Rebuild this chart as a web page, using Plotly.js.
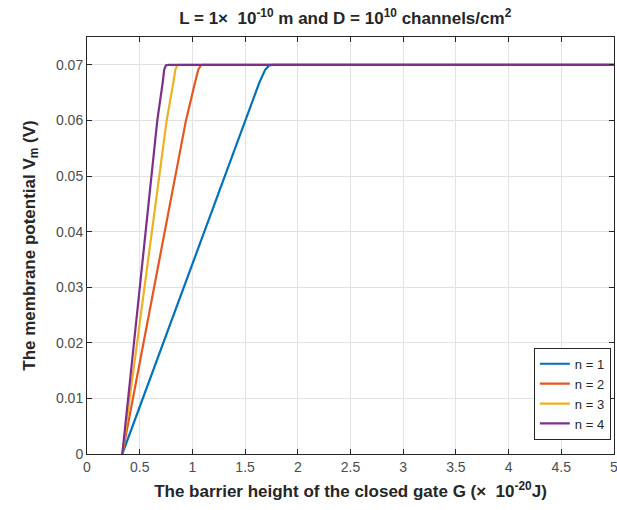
<!DOCTYPE html>
<html>
<head>
<meta charset="utf-8">
<script src="https://cdn.plot.ly/plotly-3.0.1.min.js"></script>
<style>html,body{margin:0;padding:0;background:#fff;}#chart{width:617px;height:510px;}</style>
</head>
<body>
<div id="chart"></div>
<script>
const seriesNames = ["n = 1", "n = 2", "n = 3", "n = 4"];
const G1 = [0.335, 0.724, 1.11, 1.506, 1.635, 1.69, 1.73, 1.76, 5];
const V1 = [0, 0.02, 0.04, 0.06, 0.0668, 0.0691, 0.0699, 0.07, 0.07];
const G2 = [0.335, 0.536, 0.738, 0.939, 1.025, 1.055, 1.08, 1.10, 5];
const V2 = [0, 0.02, 0.04, 0.06, 0.0668, 0.0691, 0.0699, 0.07, 0.07];
const G3 = [0.335, 0.477, 0.617, 0.756, 0.819, 0.838, 0.855, 0.87, 5];
const V3 = [0, 0.02, 0.04, 0.06, 0.0668, 0.0691, 0.0699, 0.07, 0.07];
const G4 = [0.335, 0.447, 0.557, 0.667, 0.718, 0.732, 0.748, 0.77, 5];
const V4 = [0, 0.02, 0.04, 0.06, 0.0668, 0.0691, 0.0699, 0.07, 0.07];
const colors = ["#0072BD", "#E8551F", "#EDB120", "#7E2F8E"];

const Gs = [G1, G2, G3, G4];
const Vs = [V1, V2, V3, V4];
const traces = seriesNames.map((name, i) => ({
  x: Gs[i], y: Vs[i], name: name, type: 'scatter', mode: 'lines',
  line: {color: colors[i], width: 2.2}
}));

const axisCommon = {
  showline: true, linecolor: '#262626', linewidth: 1, mirror: 'ticks',
  ticks: 'inside', ticklen: 5, tickcolor: '#262626',
  showgrid: true, gridcolor: '#E3E3E3', gridwidth: 1, zeroline: false,
  ticklabeloverflow: 'allow',
  tickfont: {family: 'Liberation Sans, Arial, sans-serif', size: 14, color: '#4D4D4D'}
};

const layout = {
  width: 617, height: 510,
  margin: {l: 87, r: 3, t: 37, b: 56},
  paper_bgcolor: '#fff', plot_bgcolor: '#fff',
  font: {family: 'Liberation Sans, Arial, sans-serif', color: '#262626'},
  title: {
    text: '<b>L = 1×  10<sup>-10</sup> m and D = 10<sup>10</sup> channels/cm<sup>2</sup></b>',
    font: {size: 17, color: '#262626'}, x: 0.49, xref: 'paper', xanchor: 'center',
    y: 1 - 18/510, yref: 'container', yanchor: 'middle'
  },
  xaxis: Object.assign({}, axisCommon, {
    range: [0, 5], dtick: 0.5, tick0: 0,
    title: {text: '<b>The barrier height of the closed gate G (×  10<sup>-20</sup>J)</b>', font: {size: 17, color: '#262626'}, standoff: 11}
  }),
  yaxis: Object.assign({}, axisCommon, {
    range: [0, 0.075], dtick: 0.01, tick0: 0,
    title: {text: '<b>The membrane potential V<sub>m</sub> (V)</b>', font: {size: 17, color: '#262626'}, standoff: 16}
  }),
  legend: {
    x: 0.994, xanchor: 'right', y: 0.034, yanchor: 'bottom',
    bgcolor: '#fff', bordercolor: '#262626', borderwidth: 1,
    font: {size: 13, color: '#262626'}, tracegroupgap: 0
  },
  showlegend: true
};

Plotly.newPlot('chart', traces, layout, {displayModeBar: false, staticPlot: true});
</script>
</body>
</html>
